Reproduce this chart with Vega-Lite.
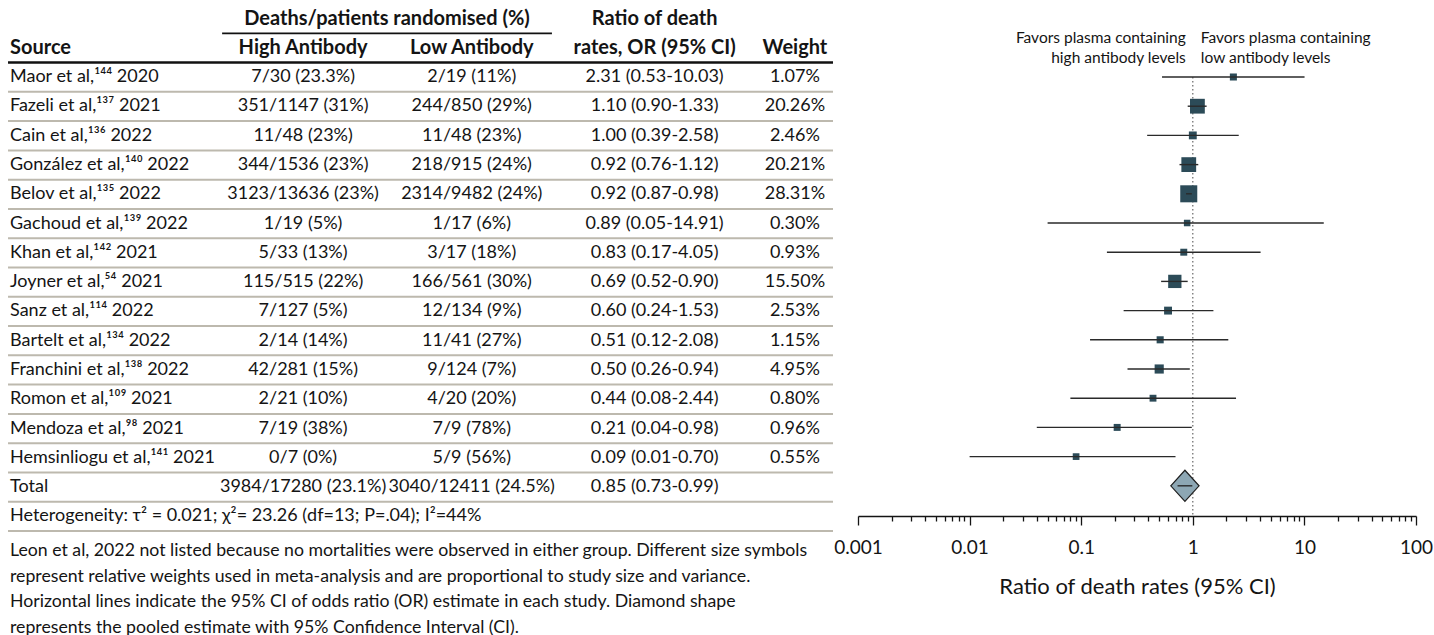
{
  "$schema": "https://vega.github.io/schema/vega-lite/v6.json",
  "padding": {"left": 0, "top": 4, "right": 0, "bottom": 0},
  "bounds": "flush",
  "spacing": 23,
  "config": {
    "view": {"stroke": null},
    "font": "Lato",
    "text": {"font": "Lato", "fontSize": 18, "color": "#141414"}
  },
  "datasets": {
    "studies": [
      {"id": "r01", "kind": "study", "source": "Maor et al,¹⁴⁴ 2020", "high": "7/30 (23.3%)", "low": "2/19 (11%)", "orText": "2.31 (0.53-10.03)", "weightText": "1.07%", "or": 2.31, "lo": 0.53, "hi": 10.03, "weight": 1.07},
      {"id": "r02", "kind": "study", "source": "Fazeli et al,¹³⁷ 2021", "high": "351/1147 (31%)", "low": "244/850 (29%)", "orText": "1.10 (0.90-1.33)", "weightText": "20.26%", "or": 1.10, "lo": 0.90, "hi": 1.33, "weight": 20.26},
      {"id": "r03", "kind": "study", "source": "Cain et al,¹³⁶ 2022", "high": "11/48 (23%)", "low": "11/48 (23%)", "orText": "1.00 (0.39-2.58)", "weightText": "2.46%", "or": 1.00, "lo": 0.39, "hi": 2.58, "weight": 2.46},
      {"id": "r04", "kind": "study", "source": "González et al,¹⁴⁰ 2022", "high": "344/1536 (23%)", "low": "218/915 (24%)", "orText": "0.92 (0.76-1.12)", "weightText": "20.21%", "or": 0.92, "lo": 0.76, "hi": 1.12, "weight": 20.21},
      {"id": "r05", "kind": "study", "source": "Belov et al,¹³⁵ 2022", "high": "3123/13636 (23%)", "low": "2314/9482 (24%)", "orText": "0.92 (0.87-0.98)", "weightText": "28.31%", "or": 0.92, "lo": 0.87, "hi": 0.98, "weight": 28.31},
      {"id": "r06", "kind": "study", "source": "Gachoud et al,¹³⁹ 2022", "high": "1/19 (5%)", "low": "1/17 (6%)", "orText": "0.89 (0.05-14.91)", "weightText": "0.30%", "or": 0.89, "lo": 0.05, "hi": 14.91, "weight": 0.30},
      {"id": "r07", "kind": "study", "source": "Khan et al,¹⁴² 2021", "high": "5/33 (13%)", "low": "3/17 (18%)", "orText": "0.83 (0.17-4.05)", "weightText": "0.93%", "or": 0.83, "lo": 0.17, "hi": 4.05, "weight": 0.93},
      {"id": "r08", "kind": "study", "source": "Joyner et al,⁵⁴ 2021", "high": "115/515 (22%)", "low": "166/561 (30%)", "orText": "0.69 (0.52-0.90)", "weightText": "15.50%", "or": 0.69, "lo": 0.52, "hi": 0.90, "weight": 15.50},
      {"id": "r09", "kind": "study", "source": "Sanz et al,¹¹⁴ 2022", "high": "7/127 (5%)", "low": "12/134 (9%)", "orText": "0.60 (0.24-1.53)", "weightText": "2.53%", "or": 0.60, "lo": 0.24, "hi": 1.53, "weight": 2.53},
      {"id": "r10", "kind": "study", "source": "Bartelt et al,¹³⁴ 2022", "high": "2/14 (14%)", "low": "11/41 (27%)", "orText": "0.51 (0.12-2.08)", "weightText": "1.15%", "or": 0.51, "lo": 0.12, "hi": 2.08, "weight": 1.15},
      {"id": "r11", "kind": "study", "source": "Franchini et al,¹³⁸ 2022", "high": "42/281 (15%)", "low": "9/124 (7%)", "orText": "0.50 (0.26-0.94)", "weightText": "4.95%", "or": 0.50, "lo": 0.26, "hi": 0.94, "weight": 4.95},
      {"id": "r12", "kind": "study", "source": "Romon et al,¹⁰⁹ 2021", "high": "2/21 (10%)", "low": "4/20 (20%)", "orText": "0.44 (0.08-2.44)", "weightText": "0.80%", "or": 0.44, "lo": 0.08, "hi": 2.44, "weight": 0.80},
      {"id": "r13", "kind": "study", "source": "Mendoza et al,⁹⁸ 2021", "high": "7/19 (38%)", "low": "7/9 (78%)", "orText": "0.21 (0.04-0.98)", "weightText": "0.96%", "or": 0.21, "lo": 0.04, "hi": 0.98, "weight": 0.96},
      {"id": "r14", "kind": "study", "source": "Hemsinliogu et al,¹⁴¹ 2021", "high": "0/7 (0%)", "low": "5/9 (56%)", "orText": "0.09 (0.01-0.70)", "weightText": "0.55%", "or": 0.09, "lo": 0.01, "hi": 0.70, "weight": 0.55},
      {"id": "tot", "kind": "total", "source": "Total", "high": "3984/17280 (23.1%)", "low": "3040/12411 (24.5%)", "orText": "0.85 (0.73-0.99)", "weightText": "", "or": 0.85, "lo": 0.73, "hi": 0.99},
      {"id": "het", "kind": "het", "source": "Heterogeneity: τ² = 0.021; χ²= 23.26 (df=13; P=.04); I²=44%", "high": "", "low": "", "orText": "", "weightText": ""}
    ],
    "header": [
      {"id": "h1", "source": "", "span": "Deaths/patients randomised (%)", "high": "", "low": "", "orText": "Ratio of death", "weightText": ""},
      {"id": "h2", "source": "Source", "span": "", "high": "High Antibody", "low": "Low Antibody", "orText": "rates, OR (95% CI)", "weightText": "Weight"}
    ]
  },
  "hconcat": [
    {
      "width": 835,
      "height": 527,
      "title": {
        "text": [
          "Leon et al, 2022 not listed because no mortalities were observed in either group. Different size symbols",
          "represent relative weights used in meta-analysis and are proportional to study size and variance.",
          "Horizontal lines indicate the 95% CI of odds ratio (OR) estimate in each study. Diamond shape",
          "represents the pooled estimate with 95% Confidence Interval (CI)."
        ],
        "orient": "bottom",
        "anchor": "start",
        "align": "left",
        "baseline": "top",
        "font": "Lato",
        "fontSize": 17.7,
        "fontWeight": "normal",
        "color": "#141414",
        "lineHeight": 25.5,
        "offset": 10,
        "dx": 10
      },
      "layer": [
        {
          "data": {"name": "studies"},
          "mark": {"type": "rule", "color": "#bdb9ae", "strokeWidth": 2},
          "encoding": {
            "x": {"datum": 0.0096, "type": "quantitative", "scale": {"domain": [0, 1], "nice": false, "zero": false}, "axis": null},
            "x2": {"datum": 0.9976},
            "y": {
              "field": "id", "type": "nominal", "bandPosition": 1,
              "scale": {"type": "band", "domain": ["h1", "h2", "r01", "r02", "r03", "r04", "r05", "r06", "r07", "r08", "r09", "r10", "r11", "r12", "r13", "r14", "tot", "het"], "paddingInner": 0, "paddingOuter": 0},
              "axis": null
            }
          }
        },
        {
          "data": {"name": "header"},
          "transform": [{"filter": "datum.id == 'h2'"}],
          "mark": {"type": "rule", "color": "#111111", "strokeWidth": 2.5},
          "encoding": {
            "x": {"datum": 0.0096},
            "x2": {"datum": 0.9976},
            "y": {"field": "id", "type": "nominal", "bandPosition": 1}
          }
        },
        {
          "data": {"name": "header"},
          "transform": [{"filter": "datum.id == 'h1'"}],
          "mark": {"type": "rule", "color": "#111111", "strokeWidth": 1.8},
          "encoding": {
            "x": {"datum": 0.266},
            "x2": {"datum": 0.661},
            "y": {"field": "id", "type": "nominal", "bandPosition": 1}
          }
        },
        {
          "data": {"name": "header"},
          "mark": {"type": "text", "align": "left", "fontWeight": "bold", "fontSize": 20},
          "encoding": {"x": {"datum": 0.012}, "y": {"field": "id", "type": "nominal", "bandPosition": 0.5}, "text": {"field": "source"}}
        },
        {
          "data": {"name": "header"},
          "mark": {"type": "text", "align": "center", "fontWeight": "bold", "fontSize": 20},
          "encoding": {"x": {"datum": 0.4635}, "y": {"field": "id", "type": "nominal", "bandPosition": 0.5}, "text": {"field": "span"}}
        },
        {
          "data": {"name": "header"},
          "mark": {"type": "text", "align": "center", "fontWeight": "bold", "fontSize": 20},
          "encoding": {"x": {"datum": 0.363}, "y": {"field": "id", "type": "nominal", "bandPosition": 0.5}, "text": {"field": "high"}}
        },
        {
          "data": {"name": "header"},
          "mark": {"type": "text", "align": "center", "fontWeight": "bold", "fontSize": 20},
          "encoding": {"x": {"datum": 0.565}, "y": {"field": "id", "type": "nominal", "bandPosition": 0.5}, "text": {"field": "low"}}
        },
        {
          "data": {"name": "header"},
          "mark": {"type": "text", "align": "center", "fontWeight": "bold", "fontSize": 20},
          "encoding": {"x": {"datum": 0.784}, "y": {"field": "id", "type": "nominal", "bandPosition": 0.5}, "text": {"field": "orText"}}
        },
        {
          "data": {"name": "header"},
          "mark": {"type": "text", "align": "center", "fontWeight": "bold", "fontSize": 20},
          "encoding": {"x": {"datum": 0.952}, "y": {"field": "id", "type": "nominal", "bandPosition": 0.5}, "text": {"field": "weightText"}}
        },
        {
          "data": {"name": "studies"},
          "mark": {"type": "text", "align": "left"},
          "encoding": {"x": {"datum": 0.012}, "y": {"field": "id", "type": "nominal", "bandPosition": 0.5}, "text": {"field": "source"}}
        },
        {
          "data": {"name": "studies"},
          "mark": {"type": "text", "align": "center"},
          "encoding": {"x": {"datum": 0.363}, "y": {"field": "id", "type": "nominal", "bandPosition": 0.5}, "text": {"field": "high"}}
        },
        {
          "data": {"name": "studies"},
          "mark": {"type": "text", "align": "center"},
          "encoding": {"x": {"datum": 0.565}, "y": {"field": "id", "type": "nominal", "bandPosition": 0.5}, "text": {"field": "low"}}
        },
        {
          "data": {"name": "studies"},
          "mark": {"type": "text", "align": "center"},
          "encoding": {"x": {"datum": 0.784}, "y": {"field": "id", "type": "nominal", "bandPosition": 0.5}, "text": {"field": "orText"}}
        },
        {
          "data": {"name": "studies"},
          "mark": {"type": "text", "align": "center"},
          "encoding": {"x": {"datum": 0.952}, "y": {"field": "id", "type": "nominal", "bandPosition": 0.5}, "text": {"field": "weightText"}}
        }
      ]
    },
    {
      "width": 558,
      "height": 512,
      "layer": [
        {
          "data": {"values": [{}]},
          "mark": {"type": "rule", "color": "#666666", "strokeWidth": 1.2, "strokeDash": [1.5, 2.5]},
          "encoding": {
            "x": {
              "datum": 1, "type": "quantitative",
              "scale": {"type": "log", "domain": [0.001, 100], "nice": false},
              "axis": {
                "orient": "bottom",
                "values": [0.001, 0.002, 0.003, 0.004, 0.005, 0.006, 0.007, 0.008, 0.009, 0.01, 0.02, 0.03, 0.04, 0.05, 0.06, 0.07, 0.08, 0.09, 0.1, 0.2, 0.3, 0.4, 0.5, 0.6, 0.7, 0.8, 0.9, 1, 2, 3, 4, 5, 6, 7, 8, 9, 10, 20, 30, 40, 50, 60, 70, 80, 90, 100],
                "labelExpr": "abs(log(datum.value)/LN10 - round(log(datum.value)/LN10)) < 0.001 ? format(datum.value, '~g') : ''",
                "labelOverlap": false,
                "labelFlush": false,
                "labelBound": false,
                "labelFont": "Lato",
                "labelFontSize": 19,
                "labelColor": "#141414",
                "labelPadding": 13,
                "tickColor": "#141414",
                "tickWidth": 1.3,
                "tickSize": {"condition": {"test": "abs(log(datum.value)/LN10 - round(log(datum.value)/LN10)) < 0.001", "value": 9}, "value": 5},
                "domainColor": "#141414",
                "domainWidth": 1.6,
                "grid": false,
                "title": "Ratio of death rates (95% CI)",
                "titleFont": "Lato",
                "titleFontSize": 22,
                "titleFontWeight": "normal",
                "titleColor": "#141414",
                "titlePadding": 19
              }
            },
            "y": {
              "datum": "r01", "type": "nominal", "bandPosition": 0.5,
              "scale": {"type": "band", "domain": ["h1", "h2", "r01", "r02", "r03", "r04", "r05", "r06", "r07", "r08", "r09", "r10", "r11", "r12", "r13", "r14", "tot"], "paddingInner": 0, "paddingOuter": 0.267, "align": 0},
              "axis": null
            },
            "y2": {"value": "height"}
          }
        },
        {
          "data": {"name": "studies"},
          "transform": [{"filter": "datum.kind == 'study'"}],
          "mark": {"type": "point", "shape": "square", "filled": true, "color": "#2c4b58", "opacity": 1},
          "encoding": {
            "x": {"field": "or", "type": "quantitative"},
            "y": {"field": "id", "type": "nominal", "bandPosition": 0.5},
            "size": {"field": "weight", "type": "quantitative", "scale": {"domain": [0, 28.31], "range": [40, 290]}, "legend": null}
          }
        },
        {
          "data": {"name": "studies"},
          "transform": [{"filter": "datum.kind == 'total'"}],
          "mark": {"type": "point", "shape": "M-1,0L0,-1.1L1,0L0,1.1Z", "filled": true, "fill": "#8da7b4", "stroke": "#1e1e1e", "strokeWidth": 1.2, "size": 800, "opacity": 1},
          "encoding": {
            "x": {"field": "or", "type": "quantitative"},
            "y": {"field": "id", "type": "nominal", "bandPosition": 0.5}
          }
        },
        {
          "data": {"name": "studies"},
          "transform": [{"filter": "datum.kind != 'het'"}],
          "mark": {"type": "rule", "color": "#2a2a2a", "strokeWidth": 1.4},
          "encoding": {
            "x": {"field": "lo", "type": "quantitative"},
            "x2": {"field": "hi"},
            "y": {"field": "id", "type": "nominal", "bandPosition": 0.5}
          }
        },
        {
          "data": {"values": [{}]},
          "mark": {"type": "text", "align": "right", "baseline": "middle", "fontSize": 15.5, "lineHeight": 20, "dx": -7, "dy": -10},
          "encoding": {
            "x": {"datum": 1},
            "y": {"datum": "h2", "type": "nominal", "bandPosition": 0.5},
            "text": {"value": ["Favors plasma containing", "high antibody levels"]}
          }
        },
        {
          "data": {"values": [{}]},
          "mark": {"type": "text", "align": "left", "baseline": "middle", "fontSize": 15.5, "lineHeight": 20, "dx": 8, "dy": -10},
          "encoding": {
            "x": {"datum": 1},
            "y": {"datum": "h2", "type": "nominal", "bandPosition": 0.5},
            "text": {"value": ["Favors plasma containing", "low antibody levels"]}
          }
        }
      ]
    }
  ]
}
